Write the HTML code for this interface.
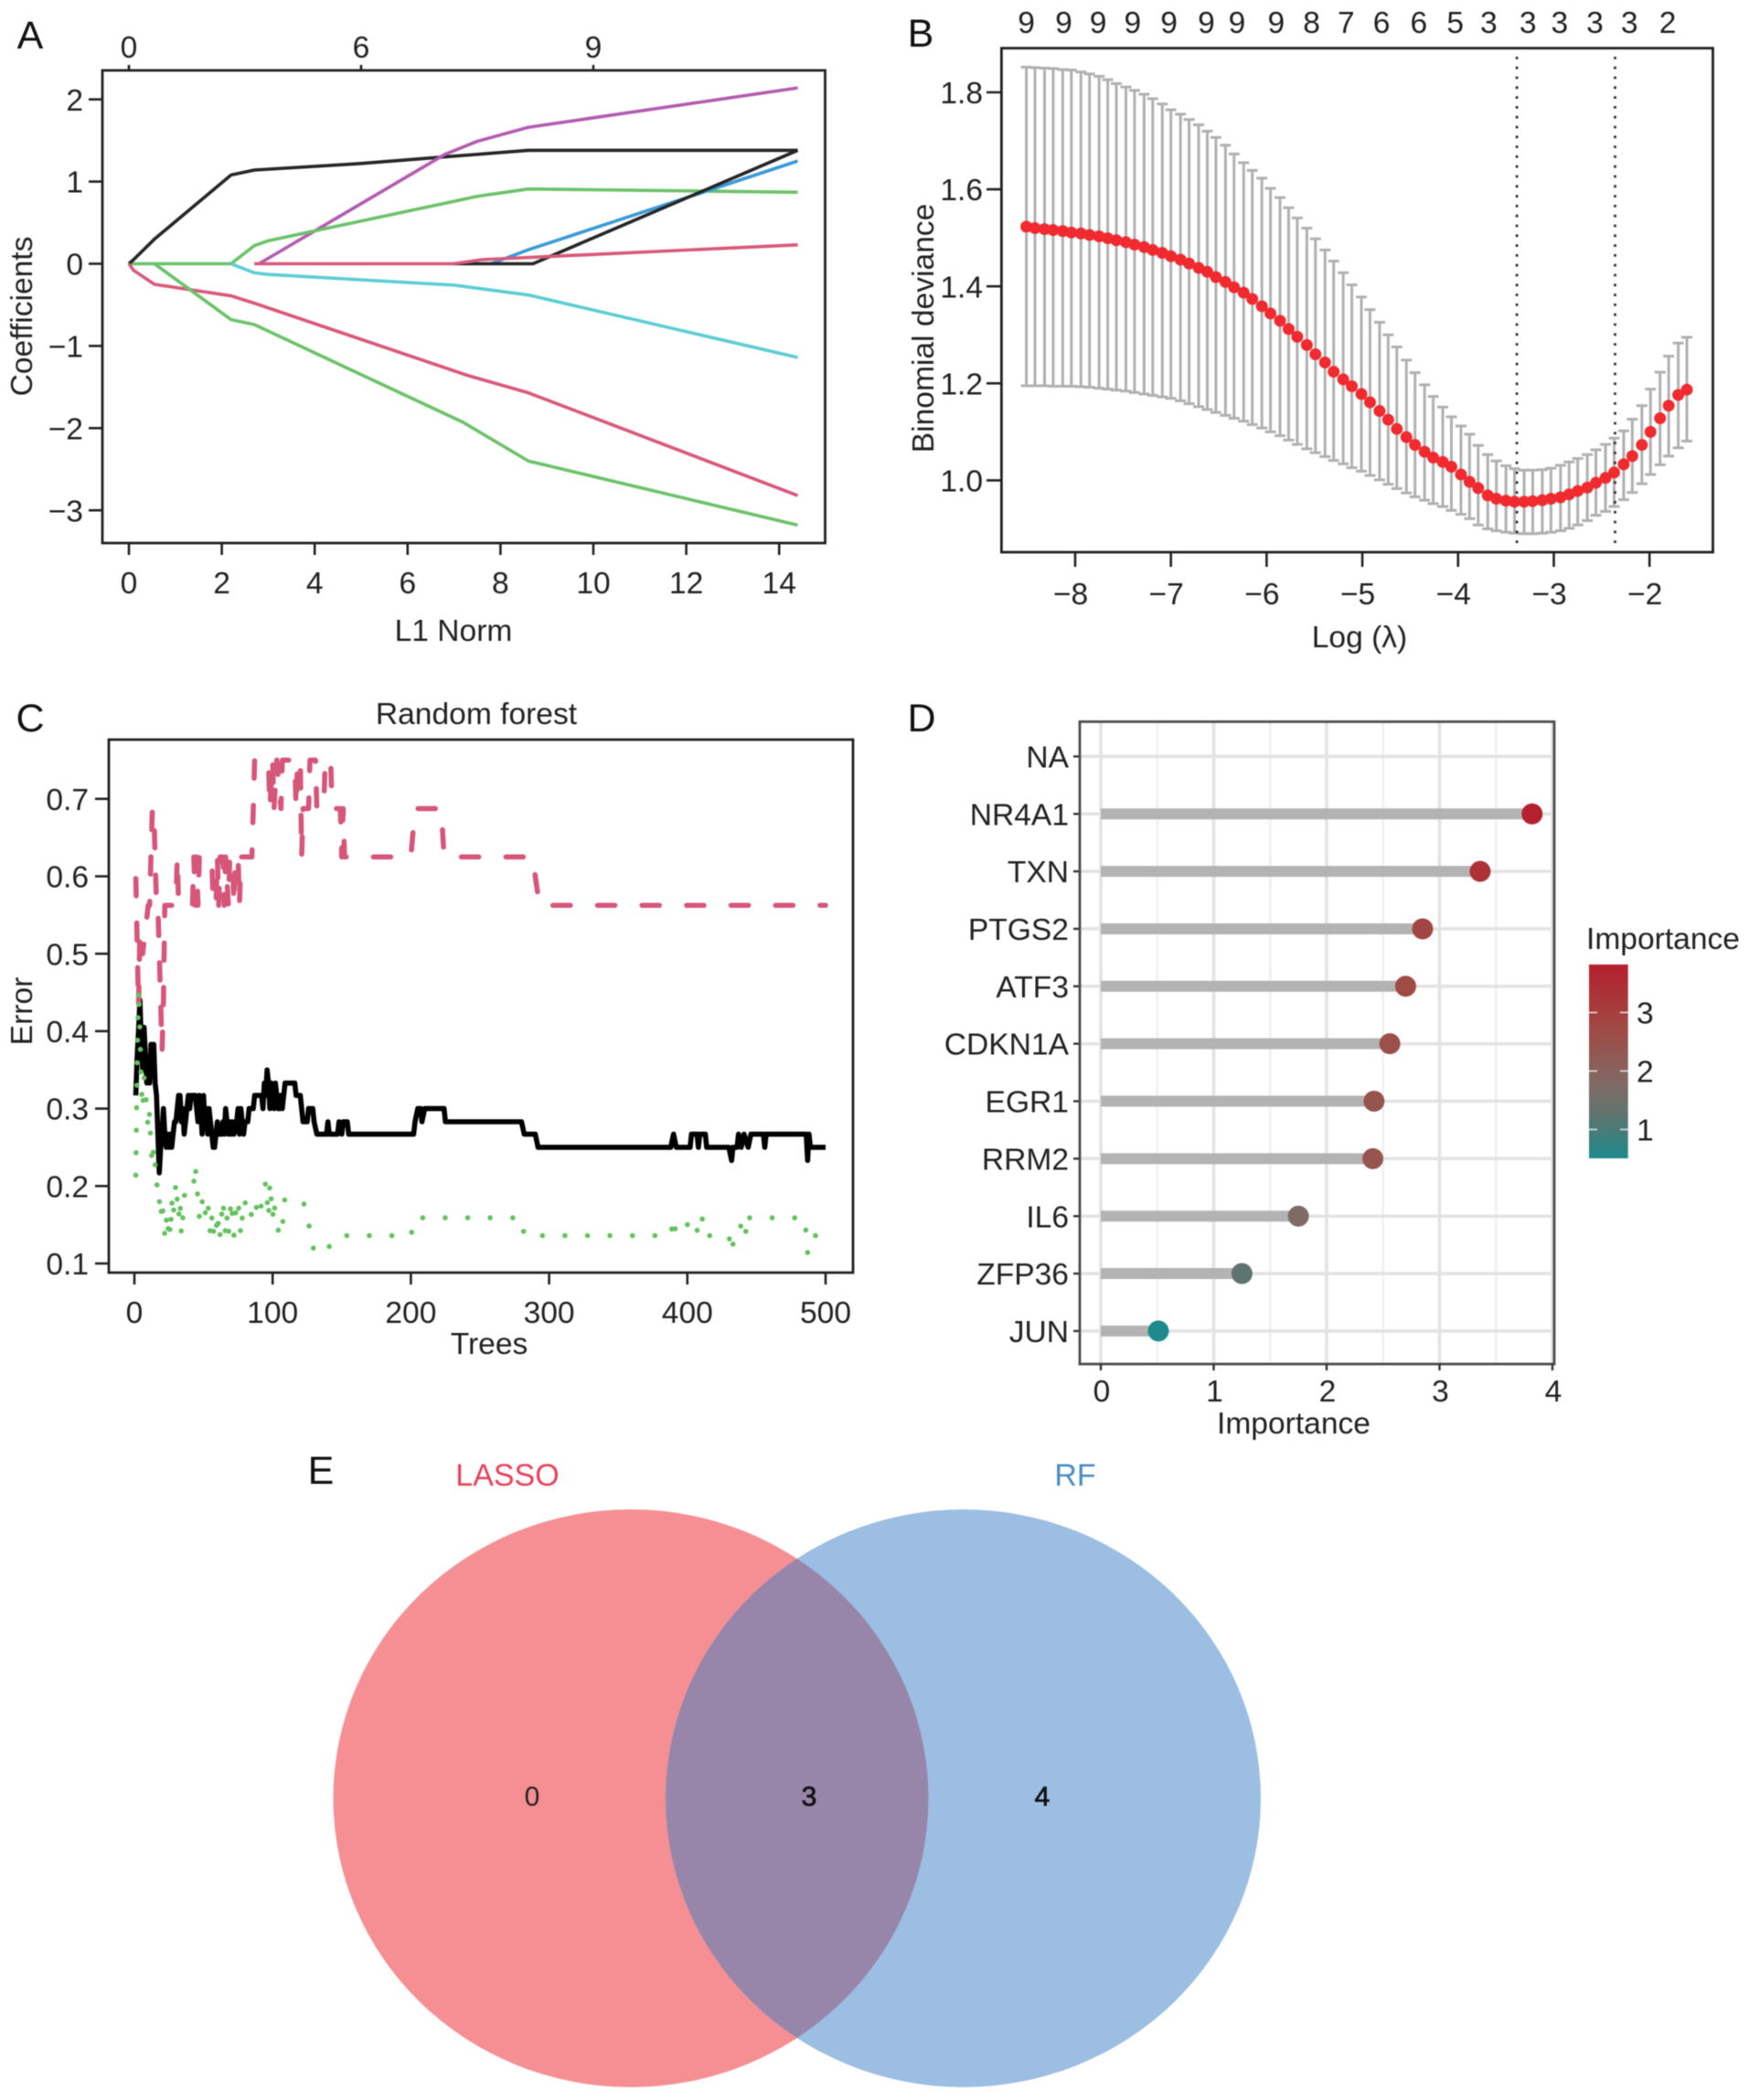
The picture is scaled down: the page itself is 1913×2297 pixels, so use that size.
<!DOCTYPE html>
<html lang="en">
<head>
<meta charset="utf-8">
<title>LASSO and random forest feature selection</title>
<style>
html,body{margin:0;padding:0;background:#fff;width:1913px;height:2297px;overflow:hidden}
svg{display:block;filter:blur(0.5px)}
text{font-family:"Liberation Sans",sans-serif;fill:#222}
.t32{font-size:33.6px}
.ltr{font-size:43px;fill:#111}
</style>
</head>
<body>
<svg id="fig" xmlns="http://www.w3.org/2000/svg" width="1913" height="2297" viewBox="0 0 1913 2297">
  <defs>
    <linearGradient id="cbar" x1="0" y1="1" x2="0" y2="0">
      <stop offset="0" stop-color="#1f8a8c"/>
      <stop offset="0.224" stop-color="#5f746f"/>
      <stop offset="0.375" stop-color="#7f6b66"/>
      <stop offset="0.662" stop-color="#a04b45"/>
      <stop offset="1" stop-color="#b5202e"/>
    </linearGradient>
    <clipPath id="venn-left-clip"><ellipse cx="690" cy="1967" rx="325.5" ry="316"/></clipPath>
  </defs>

  <g id="panel-a">
    <text class="ltr" x="33" y="53" text-anchor="middle">A</text>
    <text class="t32" transform="translate(35,346) rotate(-90)" text-anchor="middle">Coefficients</text>
    <text class="t32" x="496" y="701" text-anchor="middle">L1 Norm</text>
  </g>

  <g id="panel-b">
    <text class="ltr" x="1007" y="51" text-anchor="middle">B</text>
    <text class="t32" transform="translate(1021,359) rotate(-90)" text-anchor="middle">Binomial deviance</text>
    <text class="t32" x="1487" y="708" text-anchor="middle">Log (λ)</text>
  </g>

  <g id="panel-c">
    <text class="ltr" x="33" y="800" text-anchor="middle">C</text>
    <text class="t32" x="521" y="792" text-anchor="middle">Random forest</text>
    <text class="t32" transform="translate(35,1106) rotate(-90)" text-anchor="middle">Error</text>
    <text class="t32" x="535" y="1481" text-anchor="middle">Trees</text>
  </g>

  <g id="panel-d">
    <text class="ltr" x="1008" y="800" text-anchor="middle">D</text>
    <text class="t32" x="1415" y="1568" text-anchor="middle">Importance</text>
    <text class="t32" x="1735" y="1038">Importance</text>
  </g>

  <g id="panel-e">
    <text class="ltr" x="351" y="1623" text-anchor="middle">E</text>
    <ellipse cx="690" cy="1967" rx="325.5" ry="316" fill="#f58f94"/>
    <ellipse cx="1053.5" cy="1967" rx="325.5" ry="316" fill="#9bbee2"/>
    <ellipse cx="1053.5" cy="1967" rx="325.5" ry="316" fill="#9786aa" clip-path="url(#venn-left-clip)"/>
    <text x="555" y="1625" font-size="34" text-anchor="middle" style="fill:#e8415b">LASSO</text>
    <text x="1176" y="1625" font-size="34" text-anchor="middle" style="fill:#4a8cc7">RF</text>
    <text x="582" y="1975" font-size="30" text-anchor="middle">0</text>
    <text x="885" y="1975" font-size="30" text-anchor="middle" style="fill:#111;stroke:#111;stroke-width:0.7">3</text>
    <text x="1140" y="1975" font-size="30" text-anchor="middle" style="fill:#111;stroke:#111;stroke-width:0.7">4</text>
  </g>
</svg>

<script>
/* ---------- Panel A data: L1 norm vs coefficient ---------- */
const aXTicks = [0, 2, 4, 6, 8, 10, 12, 14];
const aYTicks = [2, 1, 0, -1, -2, -3];
const aTopTicks = [0, 5, 10];
const aTopLabels = ["0", "6", "9"];
const zeroGreenX = [0, 2.2];
const zeroGreenY = [0, 0];
const zeroRedX = [2.7, 7];
const zeroRedY = [0, 0];
const blackUpperX = [0, 0.1, 0.55, 2.2, 2.7, 5, 8.6, 14.4];
const blackUpperY = [0, 0.05, 0.3, 1.08, 1.14, 1.22, 1.38, 1.38];
const purpleX = [2.8, 6.8, 7.5, 8.6, 14.4];
const purpleY = [0, 1.33, 1.49, 1.66, 2.14];
const greenUpX = [2.2, 2.7, 3, 7.5, 8.6, 14.4];
const greenUpY = [0, 0.22, 0.28, 0.82, 0.91, 0.87];
const blueX = [7.8, 8.6, 14.4];
const blueY = [0, 0.17, 1.25];
const blackLowerX = [7, 8.7, 14.4];
const blackLowerY = [0, 0, 1.38];
const redSmallX = [7, 7.6, 14.4];
const redSmallY = [0, 0.05, 0.23];
const cyanX = [2.2, 2.7, 3, 7, 8.6, 14.4];
const cyanY = [0, -0.11, -0.13, -0.26, -0.38, -1.14];
const redNegX = [0, 0.1, 0.55, 2.2, 2.7, 7.3, 8.6, 14.4];
const redNegY = [0, -0.08, -0.25, -0.39, -0.48, -1.36, -1.57, -2.82];
const greenNegX = [0.55, 2.2, 2.7, 7.2, 8.6, 14.4];
const greenNegY = [0, -0.68, -0.74, -1.93, -2.4, -3.18];

/* ---------- Panel B data: cross-validation curve ---------- */
const bXTicks = [-8, -7, -6, -5, -4, -3, -2];
const bYTicks = [1.8, 1.6, 1.4, 1.2, 1.0];
const bTopAt = [-8.51, -8.12, -7.76, -7.40, -7.02, -6.63, -6.31, -5.90, -5.53, -5.17, -4.80, -4.41, -4.03, -3.68, -3.27, -2.94, -2.57, -2.21, -1.81];
const bTopLabels = ["9", "9", "9", "9", "9", "9", "9", "9", "8", "7", "6", "6", "5", "3", "3", "3", "3", "3", "2"];
const bLambdaMarks = [-3.386, -2.36];
const logLambda = [-8.51,-8.42,-8.32,-8.23,-8.13,-8.04,-7.94,-7.85,-7.75,-7.66,-7.57,-7.47,-7.38,-7.28,-7.19,-7.09,-7.00,-6.90,-6.81,-6.71,-6.62,-6.53,-6.43,-6.34,-6.24,-6.15,-6.05,-5.96,-5.86,-5.77,-5.68,-5.58,-5.49,-5.39,-5.30,-5.20,-5.11,-5.01,-4.92,-4.82,-4.73,-4.64,-4.54,-4.45,-4.35,-4.26,-4.16,-4.07,-3.97,-3.88,-3.79,-3.69,-3.60,-3.50,-3.41,-3.31,-3.22,-3.12,-3.03,-2.93,-2.84,-2.75,-2.65,-2.56,-2.46,-2.37,-2.27,-2.18,-2.08,-1.99,-1.89,-1.80,-1.70,-1.61];
const cvMean = [1.523,1.520,1.518,1.516,1.514,1.511,1.509,1.506,1.503,1.499,1.495,1.491,1.486,1.481,1.475,1.469,1.462,1.455,1.447,1.438,1.430,1.419,1.409,1.398,1.387,1.374,1.359,1.344,1.329,1.312,1.296,1.279,1.260,1.243,1.224,1.208,1.194,1.178,1.161,1.143,1.125,1.106,1.089,1.073,1.059,1.047,1.038,1.028,1.012,0.997,0.984,0.969,0.962,0.958,0.956,0.956,0.957,0.959,0.962,0.965,0.971,0.978,0.985,0.995,1.005,1.016,1.033,1.050,1.073,1.100,1.128,1.154,1.176,1.187];
const cvUpper = [1.852,1.851,1.850,1.849,1.847,1.846,1.842,1.838,1.833,1.826,1.818,1.811,1.804,1.796,1.787,1.776,1.764,1.755,1.744,1.733,1.720,1.707,1.691,1.673,1.655,1.639,1.623,1.602,1.583,1.562,1.541,1.520,1.498,1.475,1.452,1.428,1.403,1.378,1.352,1.326,1.300,1.275,1.248,1.222,1.197,1.173,1.151,1.131,1.112,1.095,1.072,1.053,1.040,1.030,1.024,1.021,1.021,1.022,1.025,1.031,1.038,1.045,1.053,1.063,1.074,1.087,1.102,1.126,1.154,1.188,1.223,1.256,1.283,1.295];
const cvLower = [1.195,1.195,1.195,1.194,1.194,1.194,1.193,1.192,1.190,1.188,1.186,1.184,1.181,1.178,1.175,1.172,1.169,1.164,1.158,1.152,1.146,1.140,1.134,1.128,1.122,1.115,1.108,1.100,1.092,1.083,1.074,1.065,1.057,1.049,1.041,1.034,1.026,1.019,1.010,1.001,0.992,0.983,0.974,0.966,0.959,0.952,0.946,0.938,0.930,0.921,0.908,0.900,0.896,0.893,0.891,0.890,0.890,0.891,0.893,0.896,0.901,0.908,0.917,0.928,0.936,0.946,0.960,0.975,0.993,1.012,1.032,1.050,1.067,1.081];

/* ---------- Panel C data: random forest error by tree count ---------- */
const cXTicks = [0, 100, 200, 300, 400, 500];
const cYTicks = [0.7, 0.6, 0.5, 0.4, 0.3, 0.2, 0.1];
const oobTrees = [1,2,3,4,5,6,7,8,9,10,11,12,13,14,15,16,17,18,19,20,21,22,23,24,25,26,27,28,29,30,31,32,33,34,35,36,37,38,39,40,41,44,45,46,47,48,49,50,51,52,53,54,55,56,57,58,59,60,61,63,64,65,66,67,68,69,70,71,72,74,75,76,77,78,79,80,82,83,86,87,92,93,94,95,96,97,98,99,100,101,102,103,104,105,106,107,108,109,116,117,120,121,122,125,126,129,130,132,139,140,141,147,148,150,151,154,155,202,203,205,207,208,210,224,225,280,282,290,292,388,390,392,402,403,407,408,409,413,414,430,432,433,436,437,439,441,444,446,455,456,457,486,487,488,489,500];
const oobError = [0.317,0.367,0.4,0.44,0.383,0.35,0.405,0.367,0.333,0.367,0.333,0.383,0.35,0.383,0.333,0.317,0.267,0.217,0.25,0.267,0.3,0.267,0.25,0.267,0.25,0.267,0.25,0.267,0.283,0.283,0.3,0.317,0.317,0.283,0.3,0.267,0.283,0.3,0.317,0.3,0.317,0.317,0.3,0.283,0.317,0.3,0.267,0.317,0.283,0.3,0.267,0.3,0.283,0.267,0.25,0.25,0.267,0.283,0.267,0.267,0.283,0.267,0.3,0.283,0.267,0.283,0.267,0.283,0.267,0.283,0.3,0.267,0.3,0.283,0.267,0.283,0.283,0.3,0.3,0.317,0.317,0.3,0.333,0.317,0.35,0.333,0.3,0.333,0.317,0.3,0.333,0.317,0.3,0.3,0.317,0.3,0.317,0.333,0.333,0.317,0.317,0.3,0.283,0.283,0.3,0.3,0.283,0.267,0.267,0.283,0.267,0.267,0.283,0.267,0.283,0.283,0.267,0.267,0.283,0.3,0.3,0.283,0.3,0.3,0.283,0.283,0.267,0.267,0.25,0.25,0.267,0.25,0.25,0.267,0.267,0.25,0.267,0.267,0.25,0.25,0.233,0.25,0.25,0.267,0.25,0.267,0.25,0.267,0.267,0.25,0.267,0.267,0.233,0.267,0.25,0.25];
const class2Trees = [1,3,4,6,10,11,12,13,14,15,16,17,18,19,20,21,22,30,31,32,33,42,43,44,45,46,47,56,57,59,60,61,62,64,65,66,68,69,71,72,73,75,76,77,85,86,87,97,98,100,101,103,106,107,116,117,118,120,121,122,126,127,131,132,137,138,142,143,149,150,151,152,200,203,209,222,224,288,293,500];
const class2Error = [0.6,0.43,0.53,0.5,0.5625,0.5625,0.625,0.6875,0.6875,0.625,0.5625,0.5625,0.5,0.4375,0.375,0.4375,0.5625,0.5625,0.625,0.5625,0.5625,0.5625,0.625,0.5625,0.625,0.5625,0.625,0.625,0.5625,0.5625,0.625,0.5625,0.625,0.625,0.5625,0.625,0.5625,0.625,0.625,0.5625,0.625,0.625,0.5625,0.625,0.625,0.6875,0.75,0.75,0.6875,0.75,0.6875,0.75,0.6875,0.75,0.75,0.6875,0.75,0.75,0.625,0.6875,0.6875,0.75,0.75,0.6875,0.6875,0.75,0.75,0.6875,0.6875,0.625,0.6875,0.625,0.625,0.6875,0.6875,0.6875,0.625,0.625,0.5625,0.5625];
const class1Trees = [1,2,3,4,5,6,7,8,9,10,11,12,13,14,15,16,17,18,19,20,21,22,23,24,25,26,27,28,29,30,31,32,33,34,35,36,37,43,44,45,46,47,48,49,50,51,52,53,54,55,56,57,58,59,60,61,62,63,64,65,66,67,68,69,70,71,72,73,74,75,76,77,78,79,80,81,84,87,90,95,96,97,98,99,100,101,102,105,107,108,122,125,128,130,137,148,200,203,207,222,280,282,292,388,390,392,405,408,411,414,430,432,434,437,440,443,445,485,487,489,500];
const class1Error = [0.214,0.357,0.455,0.4,0.33,0.3,0.34,0.32,0.3,0.273,0.295,0.25,0.227,0.25,0.227,0.2,0.205,0.182,0.159,0.182,0.159,0.136,0.159,0.136,0.159,0.136,0.182,0.159,0.182,0.205,0.182,0.159,0.182,0.136,0.159,0.182,0.205,0.205,0.227,0.205,0.182,0.159,0.182,0.182,0.159,0.159,0.182,0.182,0.159,0.136,0.159,0.136,0.159,0.159,0.136,0.159,0.136,0.159,0.182,0.159,0.136,0.159,0.136,0.159,0.182,0.159,0.136,0.159,0.182,0.182,0.159,0.136,0.159,0.159,0.182,0.159,0.159,0.182,0.159,0.205,0.182,0.159,0.205,0.182,0.159,0.182,0.159,0.136,0.136,0.182,0.182,0.159,0.136,0.114,0.114,0.136,0.136,0.159,0.159,0.159,0.159,0.136,0.136,0.136,0.159,0.136,0.159,0.136,0.159,0.136,0.136,0.114,0.136,0.136,0.159,0.136,0.159,0.159,0.114,0.136,0.136];

/* ---------- Panel D data: gene importance ---------- */
const genes = ["NA", "NR4A1", "TXN", "PTGS2", "ATF3", "CDKN1A", "EGR1", "RRM2", "IL6", "ZFP36", "JUN"];
const importance = [null, 3.82, 3.36, 2.85, 2.7, 2.56, 2.42, 2.41, 1.75, 1.25, 0.51];
const dXTicks = [0, 1, 2, 3, 4];
const dXMinor = [0.5, 1.5, 2.5, 3.5];
const legendTicks = [3, 2, 1];

const NS = 'http://www.w3.org/2000/svg';
const TICK_FONT = 33.6;
function mk(tag, parentId, name, attrs) {
  const el = document.createElementNS(NS, tag);
  
  
  for (const k in attrs) el.setAttribute(k, attrs[k]);
  document.getElementById(parentId).appendChild(el);
  return el;
}
function label(parentId, name, str, x, cy, anchor, size) {
  const fs = size || TICK_FONT;
  const el = mk('text', parentId, name, {x: x, y: cy + fs * 0.36, 'text-anchor': anchor || 'middle', 'font-size': fs});
  el.textContent = str;
  return el;
}
function seg(parentId, name, x1, y1, x2, y2, color, w, extra) {
  return mk('line', parentId, name, Object.assign({x1: x1, y1: y1, x2: x2, y2: y2, stroke: color, 'stroke-width': w}, extra || {}));
}
function box(parentId, name, l, t, r, b, color, w) {
  return mk('rect', parentId, name, {x: l, y: t, width: r - l, height: b - t, fill: 'none', stroke: color, 'stroke-width': w});
}
function linePath(parentId, name, xs, ys, sx, sy, color, w, extra) {
  const d = xs.map((v, i) => (i ? 'L' : 'M') + sx(v).toFixed(2) + ' ' + sy(ys[i]).toFixed(2)).join('');
  return mk('path', parentId, name, Object.assign({d: d, fill: 'none', stroke: color, 'stroke-width': w, 'stroke-linejoin': 'round'}, extra || {}));
}
function fmt(v) { return (v < 0 ? '\u2212' : '') + Math.abs(v); }

/* ---------- Panel A ---------- */
const aX = v => 141 + v * 50.8;
const aY = v => 288.5 - v * 89.9;
const AXIS = '#222';
const aSeries = [
  ['coef-line-green-zero', zeroGreenX, zeroGreenY, '#6cc26a'],
  ['coef-line-black-upper', blackUpperX, blackUpperY, '#262626'],
  ['coef-line-purple', purpleX, purpleY, '#b35cb0'],
  ['coef-line-green-up', greenUpX, greenUpY, '#6cc26a'],
  ['coef-line-blue', blueX, blueY, '#3b9ad8'],
  ['coef-line-black-lower', blackLowerX, blackLowerY, '#262626'],
  ['coef-line-cyan', cyanX, cyanY, '#5ccdd3'],
  ['coef-line-red-negative', redNegX, redNegY, '#d9597a'],
  ['coef-line-green-negative', greenNegX, greenNegY, '#6cc26a'],
  ['coef-line-red-zero', zeroRedX, zeroRedY, '#d9597a'],
  ['coef-line-red-small', redSmallX, redSmallY, '#d9597a']
];
aSeries.forEach(s => linePath('panel-a', s[0], s[1], s[2], aX, aY, s[3], 3.6));
box('panel-a', 'plot-frame-a', 112, 77, 902.5, 594, AXIS, 2.8);
aXTicks.forEach(v => {
  seg('panel-a', 'x-tick-a', aX(v), 594, aX(v), 607, AXIS, 2.6);
  label('panel-a', 'x-tick-label-a', String(v), aX(v), 637);
});
aYTicks.forEach(v => {
  seg('panel-a', 'y-tick-a', 97, aY(v), 112, aY(v), AXIS, 2.6);
  label('panel-a', 'y-tick-label-a', fmt(v), 91, aY(v), 'end');
});
aTopTicks.forEach((v, i) => {
  seg('panel-a', 'top-tick-a', aX(v), 71, aX(v), 77, AXIS, 2.6);
  label('panel-a', 'top-tick-label-a', aTopLabels[i], aX(v), 51);
});

/* ---------- Panel B ---------- */
const bX = v => 1176 + (v + 8) * 104.7;
const bY = v => 525.4 - (v - 1) * 530.5;
logLambda.forEach((v, i) => {
  const x = bX(v);
  seg('panel-b', 'error-bar', x, bY(cvUpper[i]), x, bY(cvLower[i]), '#b0b0b0', 3);
  seg('panel-b', 'error-cap-upper', x - 6, bY(cvUpper[i]), x + 6, bY(cvUpper[i]), '#b0b0b0', 3);
  seg('panel-b', 'error-cap-lower', x - 6, bY(cvLower[i]), x + 6, bY(cvLower[i]), '#b0b0b0', 3);
});
bLambdaMarks.forEach(v => {
  seg('panel-b', 'lambda-reference-line', bX(v), 62, bX(v), 594, '#333', 2.8, {'stroke-dasharray': '2.8 8'});
});
logLambda.forEach((v, i) => {
  mk('circle', 'panel-b', 'deviance-point', {cx: bX(v), cy: bY(cvMean[i]), r: 6.5, fill: '#f02a2e'});
});
box('panel-b', 'plot-frame-b', 1095.4, 52.7, 1873.5, 604, AXIS, 2.8);
bXTicks.forEach(v => {
  seg('panel-b', 'x-tick-b', bX(v), 604, bX(v), 620, AXIS, 2.6);
  label('panel-b', 'x-tick-label-b', fmt(v), bX(v) - 5, 649);
});
bYTicks.forEach(v => {
  seg('panel-b', 'y-tick-b', 1079, bY(v), 1095.4, bY(v), AXIS, 2.6);
  label('panel-b', 'y-tick-label-b', v.toFixed(1), 1075, bY(v), 'end');
});
bTopAt.forEach((v, i) => {
  label('panel-b', 'top-count-label', bTopLabels[i], bX(v), 24);
});

/* ---------- Panel C ---------- */
const cX = v => 147 + v * 1.512;
const cY = v => 1382 - (v - 0.1) * 847;
linePath('panel-c', 'oob-error-line', oobTrees, oobError, cX, cY, '#000', 5.6);
const redLine = linePath('panel-c', 'class-2-error-line', class2Trees, class2Error, cX, cY, '#d6567a', 5.6, {
  'stroke-linecap': 'round', 'stroke-dasharray': '19 29.7'
});
redLine.setAttribute('stroke-dashoffset', (-(redLine.getTotalLength() - 6)).toFixed(2));
linePath('panel-c', 'class-1-error-line', class1Trees, class1Error, cX, cY, '#62c25d', 5.6, {
  'stroke-linecap': 'round', 'stroke-dasharray': '0.01 24.6'
});
box('panel-c', 'plot-frame-c', 119, 809, 933, 1392, AXIS, 2.8);
cXTicks.forEach(v => {
  seg('panel-c', 'x-tick-c', cX(v), 1392, cX(v), 1405, AXIS, 2.6);
  label('panel-c', 'x-tick-label-c', String(v), cX(v), 1435);
});
cYTicks.forEach(v => {
  seg('panel-c', 'y-tick-c', 104, cY(v), 119, cY(v), AXIS, 2.6);
  label('panel-c', 'y-tick-label-c', v.toFixed(1), 97, cY(v), 'end');
});

/* ---------- Panel D ---------- */
const dX = v => 1204 + v * 123.5;
const dY = i => 827.4 + i * 62.85;
const colorAt = [0.51, 1.25, 1.75, 2.7, 3.82];
const colorRgb = [[31, 138, 140], [95, 116, 111], [127, 107, 102], [160, 75, 69], [181, 32, 46]];
function dColor(v) {
  let k = 0;
  while (k < colorAt.length - 2 && v > colorAt[k + 1]) k++;
  const t = (v - colorAt[k]) / (colorAt[k + 1] - colorAt[k]);
  return 'rgb(' + colorRgb[k].map((c, i) => Math.round(c + (colorRgb[k + 1][i] - c) * t)).join(',') + ')';
}
dXMinor.forEach(v => seg('panel-d', 'grid-minor-x', dX(v), 789.4, dX(v), 1492, '#ededed', 2));
dXTicks.forEach(v => seg('panel-d', 'grid-major-x', dX(v), 789.4, dX(v), 1492, '#e3e3e3', 3.6));
genes.forEach((g, i) => seg('panel-d', 'grid-major-y', 1181, dY(i), 1700, dY(i), '#e3e3e3', 3.6));
genes.forEach((g, i) => {
  const v = importance[i];
  if (v !== null) {
    seg('panel-d', 'importance-stem', dX(0), dY(i), dX(v), dY(i), '#b3b3b3', 12);
    mk('circle', 'panel-d', 'importance-point', {cx: dX(v), cy: dY(i), r: 11.5, fill: dColor(v)});
  }
  seg('panel-d', 'y-tick-d', 1174, dY(i), 1181, dY(i), '#333', 2.4);
  label('panel-d', 'gene-label', g, 1169, dY(i), 'end');
});
box('panel-d', 'plot-frame-d', 1181, 789.4, 1700, 1492, '#4d4d4d', 2.8);
dXTicks.forEach(v => {
  seg('panel-d', 'x-tick-d', dX(v), 1492, dX(v), 1499, '#333', 2.4);
  label('panel-d', 'x-tick-label-d', String(v), dX(v) + 1, 1521);
});
const legendY = v => 1055 + (3.82 - v) * 64;
mk('rect', 'panel-d', 'legend-colorbar', {x: 1738, y: 1055, width: 42.7, height: 212, fill: 'url(#cbar)'});
legendTicks.forEach(v => {
  seg('panel-d', 'legend-tick-left', 1738, legendY(v), 1747, legendY(v), '#ffffff', 1.6, {opacity: 0.8});
  seg('panel-d', 'legend-tick-right', 1772, legendY(v), 1780.7, legendY(v), '#ffffff', 1.6, {opacity: 0.8});
  label('panel-d', 'legend-tick-label', String(v), 1790, legendY(v), 'start');
});
</script>
</body>
</html>
